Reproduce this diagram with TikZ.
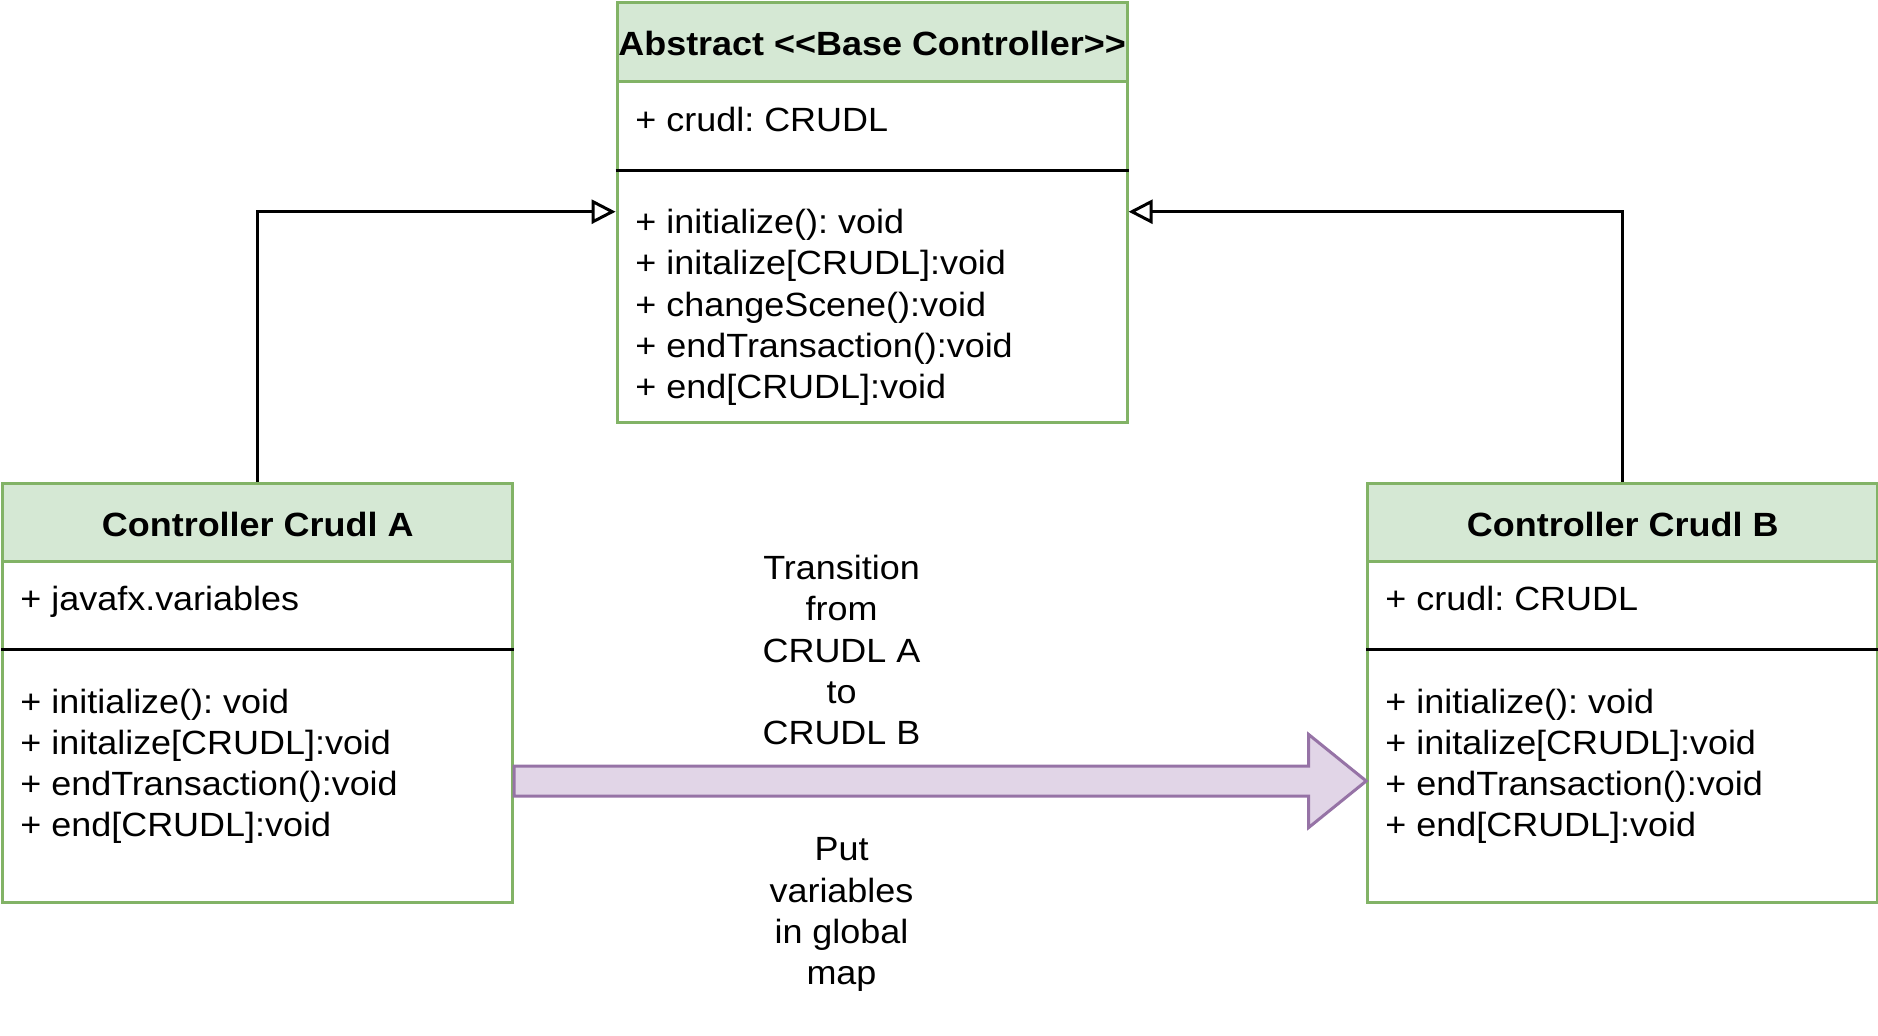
\documentclass[tikz,border=0pt]{standalone}
\usepackage{fontspec}
\newfontfamily\uifont[FakeStretch=1.07]{Liberation Sans}
\usetikzlibrary{arrows.meta,calc}
\definecolor{gstroke}{HTML}{82B366}
\definecolor{gfill}{HTML}{D5E8D4}
\definecolor{pstroke}{HTML}{9673A6}
\definecolor{pfill}{HTML}{E1D5E7}
\frenchspacing
\begin{document}
\begin{tikzpicture}[x=0.5pt,y=-0.5pt,
  classbody/.style={draw=gstroke, fill=white, line width=1.5pt, minimum width=255pt, inner sep=0pt, anchor=north west},
  classhead/.style={draw=gstroke, fill=gfill, line width=1.5pt, minimum width=255pt, minimum height=39.25pt, inner sep=0pt, anchor=north west},
  sepline/.style={line width=1.5pt, black},
  title/.style={font=\uifont\fontsize{16.8}{20.7}\selectfont\bfseries\frenchspacing, anchor=base, inner sep=0pt},
  member/.style={font=\uifont\fontsize{16.8}{20.7}\selectfont\frenchspacing, anchor=base west, inner sep=0pt},
  lbl/.style={font=\uifont\fontsize{16.8}{20.7}\selectfont\frenchspacing, anchor=base, inner sep=0pt},
  gen/.style={line width=1.5pt, -{Triangle[open,length=12pt,width=12pt]}, line join=miter},
  fatarrow/.style={draw=pstroke, fill=pfill, line width=1.5pt, line join=miter}]
\useasboundingbox (0,0) rectangle (1878,1035);

% ---- Abstract base controller ----
\node[classbody, minimum height=210pt] (base) at (615.6,1.2) {};
\node[classhead] (baseh) at (615.6,1.2) {};
\draw[sepline] (base.west |- 0,170) -- (base.east |- 0,170);
\node[title] (baset) at (baseh.center |- 0,55) {Abstract <\kern0pt<Base Controller>\kern0pt>};
\node[member] (basea) at (635,131.7) {+ crudl: CRUDL};
\foreach \t [count=\i from 0] in {+ initialize(): void,+ initalize[CRUDL]:void,+ changeScene():void,+ endTransaction():void,+ end[CRUDL]:void}
  \node[member] (basem\i) at (635,233.5+41.25*\i) {\t};

% ---- Controller Crudl A ----
\node[classbody, minimum height=209.5pt] (ctrlA) at (1.2,481.6) {};
\node[classhead] (ctrlAh) at (1.2,481.6) {};
\draw[sepline] (ctrlA.west |- 0,649.3) -- (ctrlA.east |- 0,649.3);
\node[title] (ctrlAt) at (ctrlAh.center |- 0,536.7) {Controller Crudl A};
\node[member] (ctrlAa) at (20,610) {+ javafx.variables};
\foreach \t [count=\i from 0] in {+ initialize(): void,+ initalize[CRUDL]:void,+ endTransaction():void,+ end[CRUDL]:void}
  \node[member] (ctrlAm\i) at (20,713.3+41.2*\i) {\t};

% ---- Controller Crudl B ----
\node[classbody, minimum height=209.5pt] (ctrlB) at (1366.2,481.6) {};
\node[classhead] (ctrlBh) at (1366.2,481.6) {};
\draw[sepline] (ctrlB.west |- 0,649.3) -- (ctrlB.east |- 0,649.3);
\node[title] (ctrlBt) at (ctrlBh.center |- 0,536.7) {Controller Crudl B};
\node[member] (ctrlBa) at (1385,610) {+ crudl: CRUDL};
\foreach \t [count=\i from 0] in {+ initialize(): void,+ initalize[CRUDL]:void,+ endTransaction():void,+ end[CRUDL]:void}
  \node[member] (ctrlBm\i) at (1385,713.3+41.2*\i) {\t};

% ---- generalisation connectors ----
\draw[gen] (ctrlA.north) |- (base.west |- 0,211.7);
\draw[gen] (ctrlB.north) |- (base.east |- 0,211.7);

% ---- fat transition arrow ----
\coordinate (fs) at (ctrlA.east |- 0,781);
\coordinate (ft) at (ctrlB.west |- 0,781);
\draw[fatarrow] ($(fs)+(0,-15)$) -- ($(ft)+(-57.5,-15)$) -- ($(ft)+(-57.5,-46.5)$) -- (ft)
  -- ($(ft)+(-57.5,46.5)$) -- ($(ft)+(-57.5,15)$) -- ($(fs)+(0,15)$) -- cycle;

% ---- labels ----
\foreach \t [count=\i from 0] in {Transition,from,CRUDL A,to,CRUDL B}
  \node[lbl] (tr\i) at (841.5,579.3+41.4*\i) {\t};
\foreach \t [count=\i from 0] in {Put,variables,in global,map}
  \node[lbl] (pv\i) at (841.5,860.7+41.4*\i) {\t};
\end{tikzpicture}
\end{document}
